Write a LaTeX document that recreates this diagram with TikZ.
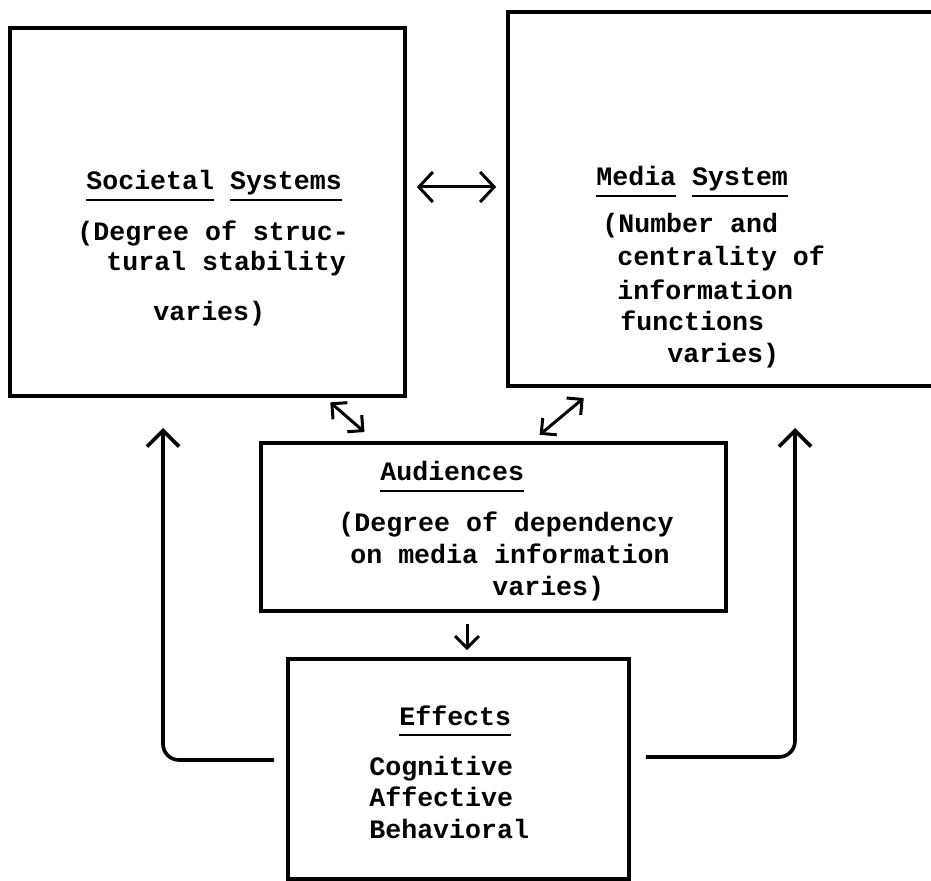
\documentclass[tikz,border=0pt]{standalone}
\usepackage{fontspec}
\setmonofont{Liberation Mono}
\usetikzlibrary{arrows.meta, calc}
\newcommand{\uword}[1]{\leavevmode\vtop{\hbox{\vphantom{y}#1}\kern1.8pt\hrule height 1.1pt}}

\begin{document}
\begin{tikzpicture}[x=0.5pt, y=-0.5pt,
    box/.style={draw, line width=1.8pt, inner sep=0pt},
    txt/.style={anchor=base west, inner sep=0pt, font=\fontsize{13.3}{16}\selectfont\ttfamily\bfseries},
    link/.style={line width=1.5pt, {Straight Barb[length=5.5pt,width=11pt]}-{Straight Barb[length=5.5pt,width=11pt]}},
    bigLink/.style={line width=1.5pt, {Straight Barb[length=7pt,width=15pt]}-{Straight Barb[length=7pt,width=15pt]}},
    feed/.style={line width=1.8pt, rounded corners=8pt, -{Straight Barb[length=8pt,width=16pt]}}]
    \useasboundingbox (0,0) rectangle (931,881);
    % Boxes
    \node[box, minimum width=197.5pt, minimum height=184pt] (soc) at (207.5,212) {};
    \node[box, minimum width=226pt, minimum height=187pt] (med) at (734,199) {};
    \node[box, minimum width=232.5pt, minimum height=84pt] (aud) at (493.5,527) {};
    \node[box, minimum width=170.5pt, minimum height=110pt] (eff) at (458.5,769) {};
    % Societal systems
    \node[txt] (socT) at (86,190) {\uword{Societal} \uword{Systems}};
    \node[txt] (socA) at (77,241) {(Degree of struc-};
    \node[txt] (socB) at (106,271) {tural stability};
    \node[txt] (socC) at (153,321) {varies)};
    % Media system
    \node[txt] (medT) at (596,186) {\uword{Media} \uword{System}};
    \node[txt] (medA) at (602,233) {(Number and};
    \node[txt] (medB) at (617,266) {centrality of};
    \node[txt] (medC) at (617,300) {information};
    \node[txt] (medD) at (620,331) {functions};
    \node[txt] (medE) at (667,363) {varies)};
    % Audiences
    \node[txt] (audT) at (380,481) {\uword{Audiences}};
    \node[txt] (audA) at (338,531) {(Degree of dependency};
    \node[txt] (audB) at (350,563) {on media information};
    \node[txt] (audC) at (492,595) {varies)};
    % Effects
    \node[txt] (effT) at (399,725) {\uword{Effects}};
    \node[txt] (effA) at (369,775) {Cognitive};
    \node[txt] (effB) at (369,806) {Affective};
    \node[txt] (effC) at (369,838) {Behavioral};
    % Links
    \draw[bigLink, shorten <=5pt, shorten >=5pt] (0,187 -| soc.east) -- (0,187 -| med.west);
    \draw[link, shorten <=3.5pt, shorten >=7pt] (325,0 |- soc.south) -- (375,0 |- aud.north);
    \draw[link, shorten <=5pt, shorten >=8pt] (532,0 |- aud.north) -- (596,0 |- med.south);
    \draw[link, -{Straight Barb[length=6pt,width=12pt]}, shorten <=5.5pt, shorten >=3.5pt] (467,0 |- aud.south) -- (467,0 |- eff.north);
    % Feedback
    \coordinate (fbL) at (163,428);
    \coordinate (fbR) at (795,428);
    \draw[feed] ([xshift=-6pt,yshift=4.5pt]eff.west) -| (fbL);
    \draw[feed] ([xshift=7.5pt,yshift=6pt]eff.east) -| (fbR);
\end{tikzpicture}
\end{document}
